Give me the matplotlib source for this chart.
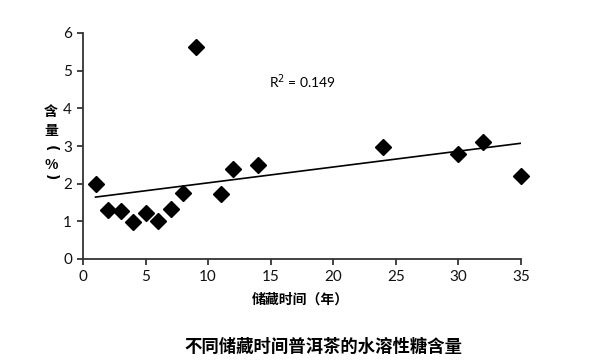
import numpy as np
import matplotlib
matplotlib.use("Agg")
import matplotlib.pyplot as plt

plt.rcParams['font.family'] = ['Lato', 'Noto Sans CJK SC', 'DejaVu Sans']

years = [1, 2, 3, 4, 5, 6, 7, 8, 9, 11, 12, 14, 24, 30, 32, 35]
sugar = [2.00, 1.29, 1.28, 0.98, 1.21, 1.00, 1.33, 1.76, 5.62, 1.72, 2.38, 2.49, 2.98, 2.80, 3.11, 2.21]
x_ticks = [0, 5, 10, 15, 20, 25, 30, 35]
y_ticks = [0, 1, 2, 3, 4, 5, 6]
r2_label = "R$^{2}$ = 0.149"
x_label = "储藏时间（年）"
y_label_chars = ["含", "量", "(", "%", ")"]
title = "不同储藏时间普洱茶的水溶性糖含量"

fig = plt.figure(figsize=(5.97, 3.63), dpi=100)
ax = fig.add_axes([83/597, 1-259/363, (521-83)/597, (259-33)/363])

ax.plot(years, sugar, linestyle='none', marker='D', markersize=8, color='black', clip_on=False)
coef = np.polyfit(years, sugar, 1)
xs = np.array([years[0], years[-1]])
ax.plot(xs, np.polyval(coef, xs), color='black', linewidth=1.2)

ax.set_xlim(0, 35)
ax.set_ylim(0, 6)
ax.set_xticks(x_ticks)
ax.set_yticks(y_ticks)
for s in ['top', 'right']:
    ax.spines[s].set_visible(False)
for s in ['left', 'bottom']:
    ax.spines[s].set_linewidth(1.3)
    ax.spines[s].set_color('#333333')
ax.tick_params(direction='out', length=4, width=1.1, labelsize=11, colors='#111111', pad=4)

ax.text(14.85, 4.55, r2_label, fontsize=10, family=['Lato', 'DejaVu Sans'])

ys = [112, 131.5, 148, 164.5, 177]
for ch, yy in zip(y_label_chars, ys):
    rot = -90 if ch in "()" else 0
    fig.text(51/597, 1-yy/363, ch, ha='center', va='center', fontsize=10,
             family=['DejaVu Sans'] if ch in "()" else ['Noto Sans CJK SC', 'DejaVu Sans'],
             fontweight='bold', rotation=rot)
fig.text(300/597, 1-300/363, x_label, ha='center', va='center', fontsize=10,
         family=['Noto Sans CJK SC', 'DejaVu Sans'], fontweight='bold')
fig.text(323/597, 1-347/363, title, ha='center', va='center', fontsize=12.5,
         family=['Noto Sans CJK SC', 'DejaVu Sans'], fontweight='bold')

fig.savefig('out.png', dpi=100)
